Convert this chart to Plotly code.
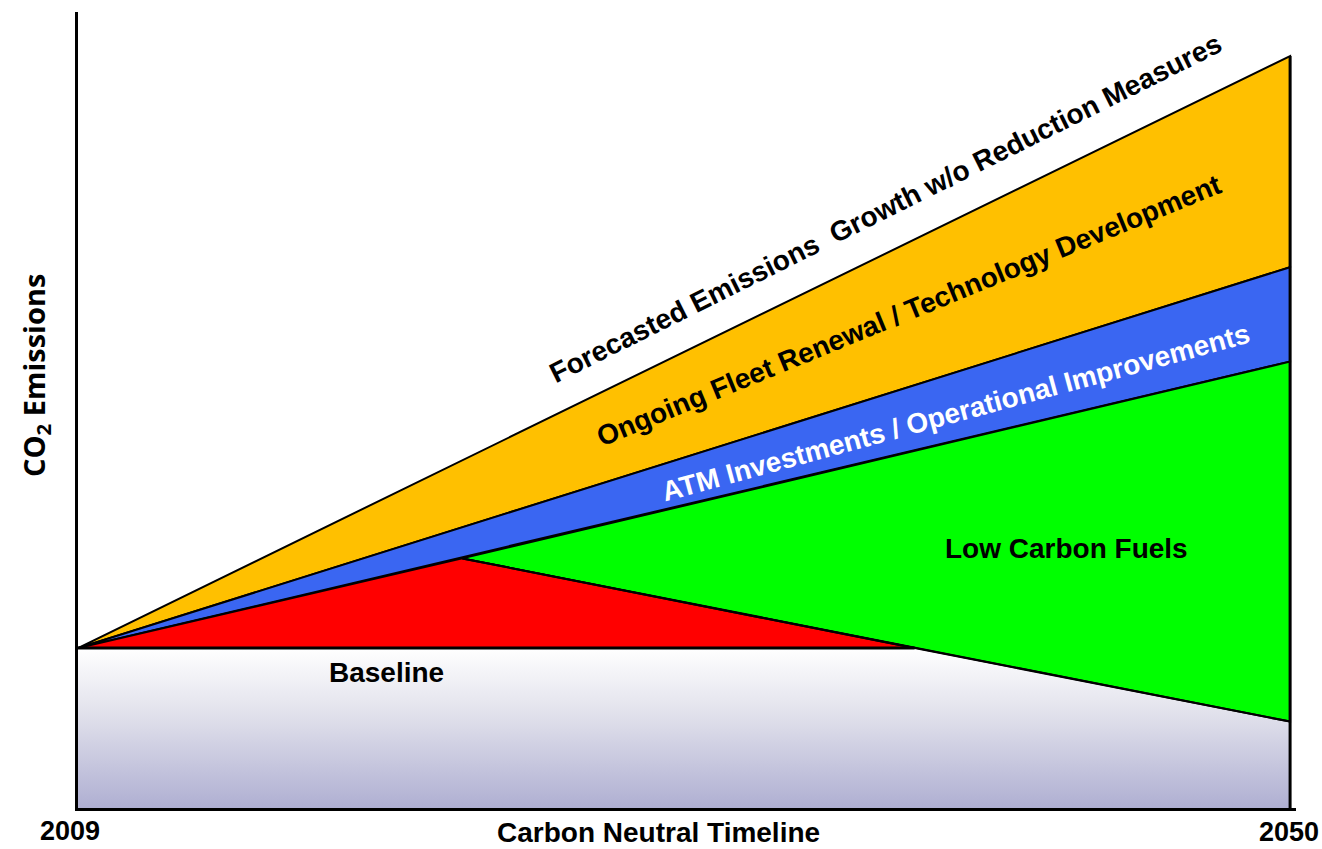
import plotly.graph_objects as go

# ---- data (emission index, baseline = 100) ----
years = [2009, 2050]
forecast = [100, 470]          # growth without reduction measures
after_fleet = [100, 338]       # after fleet renewal / technology
after_atm = [100, 279]         # after ATM / operational improvements
net_years = [2009, 2022, 2037.3, 2050]
net_path = [100, 156, 100, 54] # net emissions after low carbon fuels
baseline = 100
y_top = 497.5

FONT = "Liberation Sans, Arial, sans-serif"
fig = go.Figure()

# baseline gradient area
fig.add_trace(go.Scatter(
    x=[years[0], years[1], years[1], years[0], years[0]],
    y=[0, 0, baseline, baseline, 0],
    fill="toself", mode="none",
    fillgradient=dict(type="vertical", colorscale=[[0, "#afafd2"], [0.6, "#e2e2ec"], [1, "#ffffff"]]),
    hoverinfo="skip", showlegend=False))

def poly(xs, ys, color):
    fig.add_trace(go.Scatter(x=xs + [xs[0]], y=ys + [ys[0]], fill="toself",
                             fillcolor=color, mode="lines",
                             line=dict(color="black", width=2),
                             hoverinfo="skip", showlegend=False))

# yellow wedge
poly([years[0], years[1], years[1]], [forecast[0], forecast[1], after_fleet[1]], "#ffc000")
# blue wedge
poly([years[0], years[1], years[1]], [after_fleet[0], after_fleet[1], after_atm[1]], "#3a66f2")
# green (low carbon fuels)
poly([net_years[1], years[1], years[1]], [net_path[1], after_atm[1], net_path[3]], "#00ff00")
# red triangle
poly([net_years[0], net_years[1], net_years[2]], [net_path[0], net_path[1], net_path[2]], "#ff0000")
# green lower edge continuing below baseline
fig.add_trace(go.Scatter(x=net_years[1:], y=net_path[1:], mode="lines",
                         line=dict(color="black", width=2), hoverinfo="skip", showlegend=False))
# baseline line
fig.add_trace(go.Scatter(x=[net_years[0], net_years[2]], y=[baseline, baseline], mode="lines",
                         line=dict(color="black", width=3), hoverinfo="skip", showlegend=False))
# right edge
fig.add_trace(go.Scatter(x=[years[1], years[1]], y=[0, forecast[1]], mode="lines",
                         line=dict(color="black", width=3), hoverinfo="skip", showlegend=False))

ann = []
def label(text, x, y, size, angle=0, color="black"):
    ann.append(dict(text=f"<b>{text}</b>", x=x, y=y, xref="x", yref="y", showarrow=False,
                    textangle=angle, font=dict(family=FONT, size=size, color=color)))

label("Forecasted Emissions  Growth w/o Reduction Measures", 2036.3, 375, 28, -26.5)
label("Ongoing Fleet Renewal / Technology Development", 2037.1, 311, 28, -22.3)
label("ATM Investments / Operational Improvements", 2038.7, 247, 28, -15.2, "white")
label("Low Carbon Fuels", 2042.45, 162, 28)
label("Baseline", 2019.45, 85, 28)

ann.append(dict(text="<b>2009</b>", x=2009, y=0, xref="x", yref="y", showarrow=False,
                xshift=-8, yshift=-23, font=dict(family=FONT, size=27, color="black")))
ann.append(dict(text="<b>2050</b>", x=2050, y=0, xref="x", yref="y", showarrow=False,
                xshift=-1, yshift=-24, font=dict(family=FONT, size=27, color="black")))
ann.append(dict(text="<b>Carbon Neutral Timeline</b>", x=2028.65, y=0, xref="x", yref="y",
                showarrow=False, yshift=-24, font=dict(family=FONT, size=28, color="black")))
ann.append(dict(text="<b>CO<sub>2</sub> Emissions</b>", x=2009, y=270, xref="x", yref="y",
                showarrow=False, xshift=-43, textangle=-90,
                font=dict(family="Open Sans, sans-serif", size=29, color="black")))

fig.update_layout(
    width=1322, height=849,
    margin=dict(l=78, r=26, t=12, b=41),
    paper_bgcolor="white", plot_bgcolor="white",
    annotations=ann,
    xaxis=dict(range=[2009, 2050.2], showgrid=False, zeroline=False, showticklabels=False,
               ticks="", showline=True, linecolor="black", linewidth=3),
    yaxis=dict(range=[0, y_top], showgrid=False, zeroline=False, showticklabels=False,
               ticks="", showline=True, linecolor="black", linewidth=3),
)

fig.write_html("out.html", config={"displayModeBar": False},
               post_script="document.body.style.margin='0';")
